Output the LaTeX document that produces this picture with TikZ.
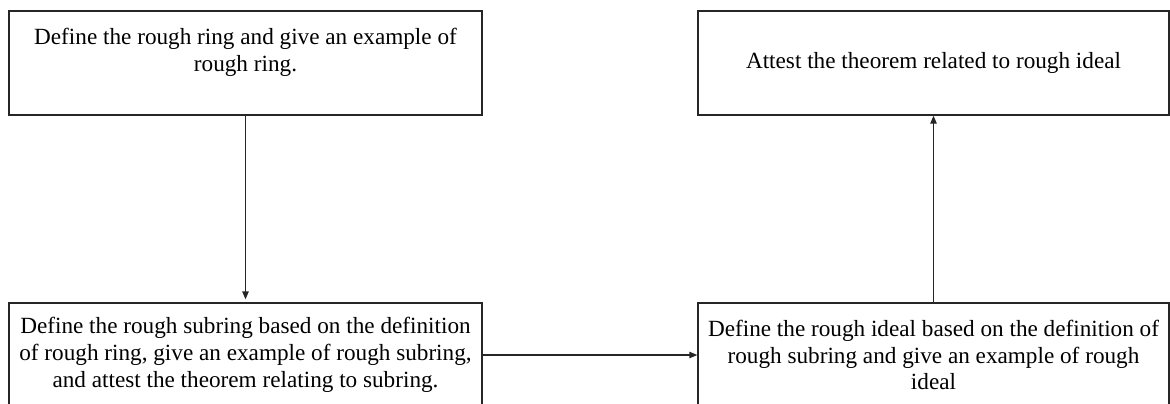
\documentclass[tikz,border=0pt]{standalone}
\usepackage{fontspec}
\setmainfont{Liberation Serif}
\usetikzlibrary{arrows.meta}

\tikzset{
  stage/.style={draw=black!85, line width=0.65pt, minimum height=52pt, inner sep=0pt,
    align=center, font=\fontsize{11.6}{13.4}\selectfont},
  flow/.style={draw=black!85, line width=0.65pt, -{Triangle[length=4pt, width=3.2pt]}}
}

\begin{document}
\begin{tikzpicture}[x=0.5pt, y=-0.5pt]

% Frame
\clip ( 0, 0 ) rectangle ( 1170, 403 );

% Top row
\node [stage, minimum width=236.5pt] (ring) at ( 245.5, 63 ) {Define the rough ring and give an example of\\rough ring.\\\mbox{}};
\node [stage, minimum width=235.5pt] (attest) at ( 933.5, 63 ) {Attest the theorem related to rough ideal};

% Bottom row
\node [stage, minimum width=236.5pt] (subring) at ( 245.5, 355 ) {Define the rough subring based on the definition\\of rough ring, give an example of rough subring,\\and attest the theorem relating to subring.};
\node [stage, minimum width=235.5pt] (ideal) at ( 933.5, 355 ) {Define the rough ideal based on the definition of\\rough subring and give an example of rough\\ideal};

% Arrows
\draw [flow, shorten >=1.5pt] (ring.south) -- (subring.north);
\draw [flow] (subring.east) -- (ideal.west);
\draw [flow] (ideal.north) -- (attest.south);

\end{tikzpicture}
\end{document}
